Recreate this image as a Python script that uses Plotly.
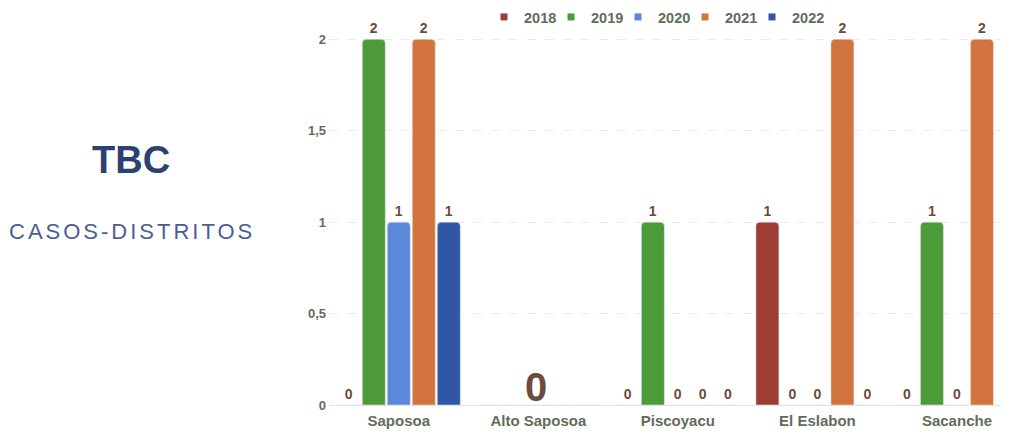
import plotly.graph_objects as go

categories = ["Saposoa", "Alto Saposoa", "Piscoyacu", "El Eslabon", "Sacanche"]
years = ["2018", "2019", "2020", "2021", "2022"]
v2018 = [0, 0, 0, 1, 0]
v2019 = [2, 0, 1, 0, 1]
v2020 = [1, 0, 0, 0, 0]
v2021 = [2, 0, 0, 2, 2]
v2022 = [1, 0, 0, 0, 0]
series = [v2018, v2019, v2020, v2021, v2022]
colors = ["#9c3d36", "#4c9a38", "#5b88d8", "#d3743f", "#2f57a4"]
# Alto Saposoa shows a single large "0" label (from the 2020 series)
big_label_cat = 1
big_label_series = 2

label_color = "#6b4b3b"
tick_color = "#5f6e5a"
font_family = "Liberation Sans, Arial, sans-serif"

W, H = 1001, 426          # page body has an 8px margin
MT, MB = 13, 29
plot_h = H - MT - MB

fig = go.Figure()
for si, (yr, vals, col) in enumerate(zip(years, series, colors)):
    texts = [("" if ci == big_label_cat else str(v)) for ci, v in enumerate(vals)]
    fig.add_trace(go.Bar(
        x=categories, y=vals, name=yr, marker=dict(color=col, cornerradius=4),
        text=texts, textposition="outside", constraintext="none",
        textfont=dict(color=label_color, size=14, family=font_family, weight="bold"),
        cliponaxis=False, showlegend=False, hoverinfo="skip",
    ))
    fig.add_trace(go.Scatter(
        x=[None], y=[None], mode="markers", name=yr,
        marker=dict(symbol="square", size=7, color=col),
        showlegend=True, legendwidth=(40 if si == len(years) - 1 else None),
    ))

# the single large label of Alto Saposoa, placed on the axis scales
fig.add_annotation(
    x=categories[big_label_cat], y=series[big_label_series][big_label_cat],
    xref="x", yref="y", text=str(series[big_label_series][big_label_cat]),
    showarrow=False, yanchor="bottom", yshift=-6, xshift=-2,
    font=dict(size=40, color=label_color, family=font_family, weight="bold"),
)


def py(p):
    return (H - MB - p) / plot_h


fig.update_layout(
    width=W, height=H,
    margin=dict(l=0, r=0, t=MT, b=MB, autoexpand=False),
    paper_bgcolor="white", plot_bgcolor="white",
    separators=",.",
    barmode="group", bargap=0.104, bargroupgap=0.08,
    font=dict(family=font_family),
    xaxis=dict(domain=[321 / W, 1], range=[-0.5, 4.373], showgrid=False,
               tickfont=dict(color=tick_color, size=15, weight="bold"),
               showline=False, ticks="", automargin=False, ticklabelstandoff=5),
    yaxis=dict(range=[0, 2.1], tickvals=[0, 0.5, 1, 1.5, 2], showgrid=True,
               gridcolor="#ececec", griddash="dash", zeroline=True,
               zerolinecolor="#dfe4ea", zerolinewidth=1,
               tickfont=dict(color=tick_color, size=13, weight="bold"),
               ticklabelstandoff=2, automargin=False),
    legend=dict(orientation="h", x=476 / W, xanchor="left",
                yref="container", y=1 - 9 / H, yanchor="middle",
                font=dict(color=tick_color, size=14.5, weight="bold"),
                itemwidth=30, entrywidth=22, entrywidthmode="pixels",
                bgcolor="rgba(0,0,0,0)"),
)
fig.add_annotation(text="<b>TBC</b>", x=123 / W, y=py(152), xref="paper", yref="paper",
                   xanchor="center", yanchor="middle", showarrow=False,
                   font=dict(size=38, color="#2c4170", family=font_family))
fig.add_annotation(text='<span style="letter-spacing:3px">CASOS-DISTRITOS</span>',
                   x=124 / W, y=py(223), xref="paper", yref="paper",
                   xanchor="center", yanchor="middle", showarrow=False,
                   font=dict(size=22, color="#4a5e93", family=font_family))

fig.write_html("out.html")
